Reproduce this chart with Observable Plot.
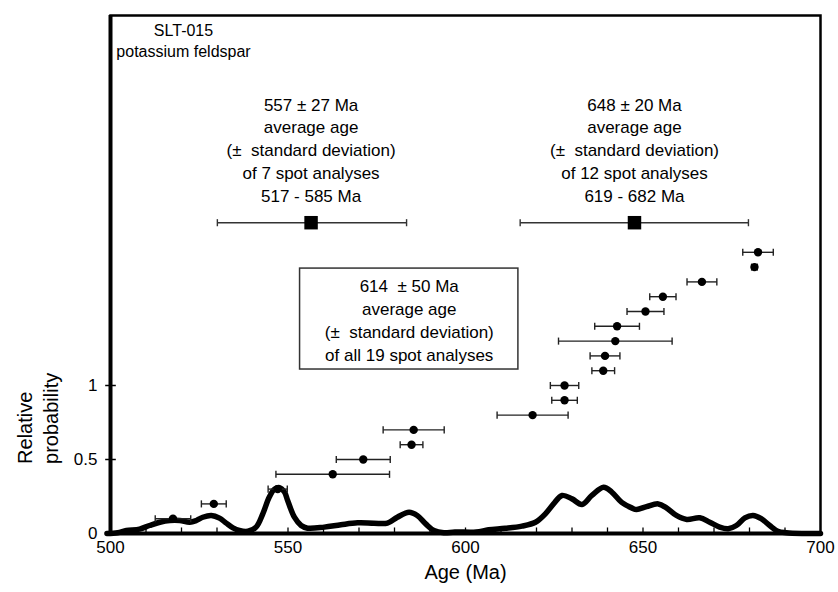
<!DOCTYPE html>
<html><head><meta charset="utf-8">
<script src="https://cdn.jsdelivr.net/npm/d3@7"></script>
<script src="https://cdn.jsdelivr.net/npm/@observablehq/plot@0.6"></script>
<style>body{margin:0;background:#fff}#chart{width:838px;height:592px}</style>
</head><body><div id="chart"></div>
<script>
// spot analyses (age in Ma, ± error, plotted rank height)
const spotAge  = [517.6, 529.1, 547.1, 562.6, 571.2, 584.8, 585.4, 618.9, 627.9, 627.9, 638.8, 639.3, 642.2, 642.7, 650.7, 655.6, 666.6, 681.4, 682.4];
const spotErr  = [5, 3.5, 2.7, 16, 7.6, 3.2, 8.6, 10, 3.6, 4, 3.2, 4.2, 16, 6.3, 5.2, 3.7, 4.2, 0.8, 4.3];
const spotRank = [0.1, 0.2, 0.3, 0.4, 0.5, 0.6, 0.7, 0.8, 0.9, 1.0, 1.1, 1.2, 1.3, 1.4, 1.5, 1.6, 1.7, 1.8, 1.9];

// group averages
const avgAge = [556.5, 647.6];
const avgLo  = [530.1, 615.4];
const avgHi  = [583.4, 679.7];
const avgRank = [2.1, 2.1];
const avgLabel = [
  "557 ± 27 Ma\naverage age\n(±  standard deviation)\nof 7 spot analyses\n517 - 585 Ma",
  "648 ± 20 Ma\naverage age\n(±  standard deviation)\nof 12 spot analyses\n619 - 682 Ma"
];

// relative probability curve
const probAge = [499, 502, 504.5, 508.2, 511, 513.9, 516.7, 519.5, 522.3, 524.2, 526, 528.4, 530.7, 532.6, 534.5, 536.3, 538.7, 541, 542.9, 544.7, 546.2, 547.6, 549, 549.9, 551.8, 553.7, 555.5, 560.2, 564.9, 569.6, 574.2, 578, 580.8, 584.1, 586.4, 588.8, 591.1, 593.9, 597, 603, 606.5, 611.2, 615.9, 619.7, 622.5, 624.8, 627.2, 630, 632.8, 635.6, 638.9, 641.2, 644, 646.8, 648.2, 651, 654.3, 656.6, 659.4, 662.3, 666, 668.8, 671.6, 674, 676.3, 678.7, 681, 683.3, 685.7, 688, 690.4, 695, 700];
const probVal = [0, 0.005, 0.02, 0.03, 0.054, 0.076, 0.088, 0.088, 0.076, 0.088, 0.11, 0.122, 0.104, 0.07, 0.038, 0.02, 0.015, 0.043, 0.133, 0.245, 0.30, 0.31, 0.28, 0.223, 0.11, 0.054, 0.036, 0.043, 0.059, 0.072, 0.07, 0.07, 0.11, 0.144, 0.122, 0.065, 0.02, 0.005, 0.01, 0.01, 0.025, 0.035, 0.05, 0.076, 0.133, 0.20, 0.257, 0.234, 0.196, 0.257, 0.313, 0.28, 0.21, 0.173, 0.162, 0.182, 0.20, 0.173, 0.122, 0.095, 0.106, 0.076, 0.043, 0.032, 0.054, 0.106, 0.122, 0.10, 0.054, 0.015, 0.005, 0, 0];

// axes
const xLabels = [500, 550, 600, 650, 700];
const xMinor = [510, 520, 530, 540, 550, 560, 570, 580, 590, 600, 610, 620, 630, 640, 650, 660, 670, 680, 690];
const yTicks = [0, 0.5, 1];
const yTickLabels = ["0", "0.5", "1"];

// overall-average note (box corners in data units)
const noteText = ["614  ± 50 Ma\naverage age\n(±  standard deviation)\nof all 19 spot analyses"];
const noteX1 = [553.4], noteX2 = [614.9], noteY1 = [1.108], noteY2 = [1.79];

const spots = spotAge.map((a, i) => ({age: a, lo: a - spotErr[i], hi: a + spotErr[i], y: spotRank[i]}));
const avgs = avgAge.map((a, i) => ({age: a, lo: avgLo[i], hi: avgHi[i], y: avgRank[i], label: avgLabel[i]}));
const prob = probAge.map((a, i) => ({age: a, p: probVal[i]}));
const note = noteText.map((t, i) => ({t, x1: noteX1[i], x2: noteX2[i], y1: noteY1[i], y2: noteY2[i]}));

const vbar = {draw(ctx, size) { const h = Math.sqrt(size) / 2; ctx.moveTo(0, -h); ctx.lineTo(0, h); }};
const hbar = {draw(ctx, size) { const h = Math.sqrt(size) / 2; ctx.moveTo(-h, 0); ctx.lineTo(h, 0); }};
const upTick = {draw(ctx, size) { const h = Math.sqrt(size); ctx.moveTo(0, 0); ctx.lineTo(0, -h); }};

const font = "Liberation Sans, Arial, Helvetica, sans-serif";

const chart = Plot.plot({
  width: 838, height: 592,
  marginLeft: 110, marginRight: 18, marginTop: 15, marginBottom: 59,
  x: {domain: [500, 700], axis: null},
  y: {domain: [0, 3.5], axis: null},
  style: {fontFamily: font, background: "white", color: "black", overflow: "visible"},
  marks: [
    Plot.frame({stroke: "black", strokeWidth: 2.5}),
    Plot.ruleX([500], {stroke: "black", strokeWidth: 4}),
    Plot.ruleY([0], {stroke: "black", strokeWidth: 4}),
    Plot.dot(xMinor, {x: d => d, y: 0, symbol: upTick, r: 3.4, stroke: "black", strokeWidth: 1.3, fill: "none"}),
    Plot.dot(yTicks, {x: 500, y: d => d, symbol: hbar, r: 6, stroke: "black", strokeWidth: 1.5, fill: "none"}),
    Plot.text(xLabels, {x: d => d, frameAnchor: "bottom", dy: 19, text: d => String(d), fontSize: 17}),
    Plot.text(yTicks, {y: d => d, frameAnchor: "left", dx: -13, textAnchor: "end", text: (d, i) => yTickLabels[i], fontSize: 17}),
    Plot.text(["Age (Ma)"], {frameAnchor: "bottom", dy: 45, fontSize: 20}),
    Plot.text(["Relative\nprobability"], {frameAnchor: "left", y: 0.47, dx: -74, rotate: -90, fontSize: 20, lineHeight: 1.3}),
    Plot.text(["SLT-015\npotassium feldspar"], {frameAnchor: "top-left", dx: 73, dy: 6, lineAnchor: "top", textAnchor: "middle", fontSize: 16, lineHeight: 1.3}),
    // probability curve
    Plot.line(prob, {x: "age", y: "p", stroke: "black", strokeWidth: 5.5, curve: "catmull-rom", strokeLinejoin: "round"}),
    // spot error bars
    Plot.link(spots, {x1: "lo", x2: "hi", y1: "y", y2: "y", stroke: "#222", strokeWidth: 1.4}),
    Plot.dot(spots, {x: "lo", y: "y", symbol: vbar, r: 4, stroke: "#222", strokeWidth: 1.4, fill: "none"}),
    Plot.dot(spots, {x: "hi", y: "y", symbol: vbar, r: 4, stroke: "#222", strokeWidth: 1.4, fill: "none"}),
    Plot.dot(spots, {x: "age", y: "y", r: 4.2, fill: "black", stroke: "none"}),
    // averages
    Plot.link(avgs, {x1: "lo", x2: "hi", y1: "y", y2: "y", stroke: "#333", strokeWidth: 1.4}),
    Plot.dot(avgs, {x: "lo", y: "y", symbol: vbar, r: 4, stroke: "#333", strokeWidth: 1.4, fill: "none"}),
    Plot.dot(avgs, {x: "hi", y: "y", symbol: vbar, r: 4, stroke: "#333", strokeWidth: 1.4, fill: "none"}),
    Plot.dot(avgs, {x: "age", y: "y", symbol: "square", r: 7.6, fill: "black", stroke: "none"}),
    Plot.text(avgs, {x: "age", y: "y", text: "label", lineAnchor: "bottom", dy: -21, fontSize: 17, lineHeight: 1.34}),
    // overall note box
    Plot.rect(note, {x1: "x1", x2: "x2", y1: "y1", y2: "y2", fill: "white", stroke: "#333", strokeWidth: 1.5}),
    Plot.text(note, {x: d => (d.x1 + d.x2) / 2, y: d => (d.y1 + d.y2) / 2, text: "t", fontSize: 17, lineHeight: 1.34})
  ]
});
document.getElementById("chart").append(chart);
</script>
</body></html>
